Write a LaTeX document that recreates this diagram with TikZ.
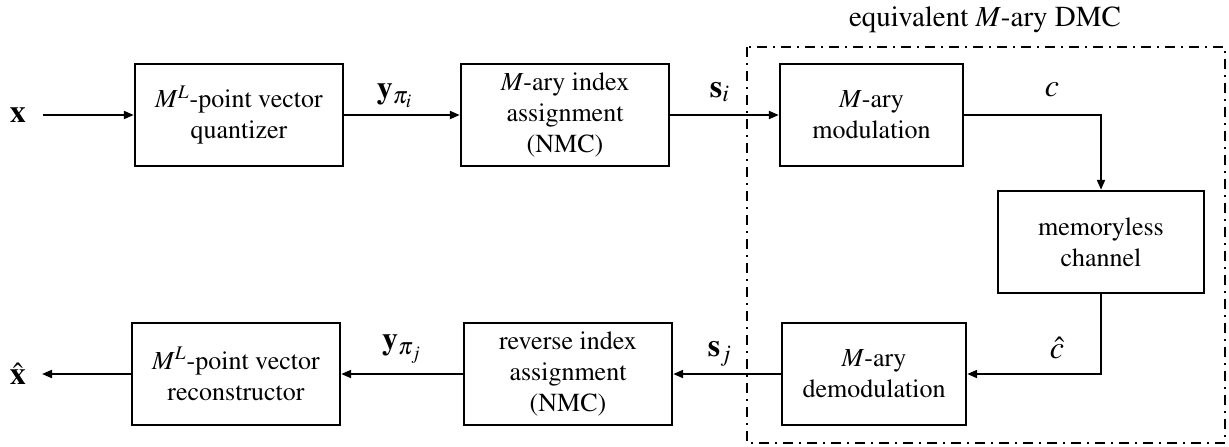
\documentclass[tikz,border=0pt]{standalone}
\usepackage[T1]{fontenc}
\usepackage{mathptmx}
\usetikzlibrary{arrows.meta}

\tikzset{
    block/.style  = {draw, line width=1.2pt, align=center, inner sep=2pt,
                     minimum width=104pt, minimum height=51pt,
                     font=\fontsize{13}{15.5}\selectfont},
    flow/.style   = {line width=1pt, -{Triangle[length=5pt, width=4pt]}},
    sig/.style    = {font=\fontsize{16}{18}\selectfont, inner sep=1pt},
    dmcbox/.style = {line width=1pt, dash pattern=on 5pt off 3pt on 1pt off 3pt}
}

\begin{document}
\begin{tikzpicture}[x=0.5pt, y=-0.5pt]
    \useasboundingbox (0, 0) rectangle (1229, 446);

    % Upper row: source side
    \node[block] (quant)  at (239, 115) {$M^L$-point vector\\quantizer};
    \node[block] (assign) at (565, 115) {$M$-ary index\\assignment\\(NMC)};
    \node[block, minimum width=91.5pt] (mod) at (871.5, 115) {$M$-ary\\modulation};

    % Channel
    \node[block, minimum width=103pt] (chan) at (1101, 242) {memoryless\\channel};

    % Lower row: sink side
    \node[block, minimum width=92pt] (demod) at (874, 374) {$M$-ary\\demodulation};
    \node[block] (rassign) at (568, 374) {reverse index\\assignment\\(NMC)};
    \node[block] (recon)   at (236, 374) {$M^L$-point vector\\reconstructor};

    % Equivalent M-ary DMC
    \draw[dmcbox] (747, 47) rectangle (1225, 443);
    \node[font=\fontsize{14.5}{16}\selectfont] (dmc) at (985, 20) {equivalent $M$-ary DMC};

    % Input and output
    \node[sig] (in)  at (18, 115) {$\mathbf{x}$};
    \node[sig] (out) at (18, 374) {$\hat{\mathbf{x}}$};
    \coordinate (inend)  at (43, 115);
    \coordinate (outend) at (42, 374);

    % Connectors
    \draw[flow] (inend) -- (quant.west);
    \draw[flow] (quant.east) -- (assign.west);
    \draw[flow] (assign.east) -- (mod.west);
    \draw[flow] (mod.east) -| (chan.north);
    \draw[flow] (chan.south) |- (demod.east);
    \draw[flow] (demod.west) -- (rassign.east);
    \draw[flow] (rassign.west) -- (recon.east);
    \draw[flow] (recon.west) -- (outend);

    % Signal labels
    \node[sig] (ypi)  at (395, 96)  {$\mathbf{y}_{\pi_i}$};
    \node[sig] (si)   at (720, 92)  {$\mathbf{s}_i$};
    \node[sig] (c)    at (1052, 90) {$c$};
    \node[sig] (chat) at (1057, 348) {$\hat{c}$};
    \node[sig] (sj)   at (720, 354) {$\mathbf{s}_j$};
    \node[sig] (ypj)  at (402, 349) {$\mathbf{y}_{\pi_j}$};
\end{tikzpicture}
\end{document}
